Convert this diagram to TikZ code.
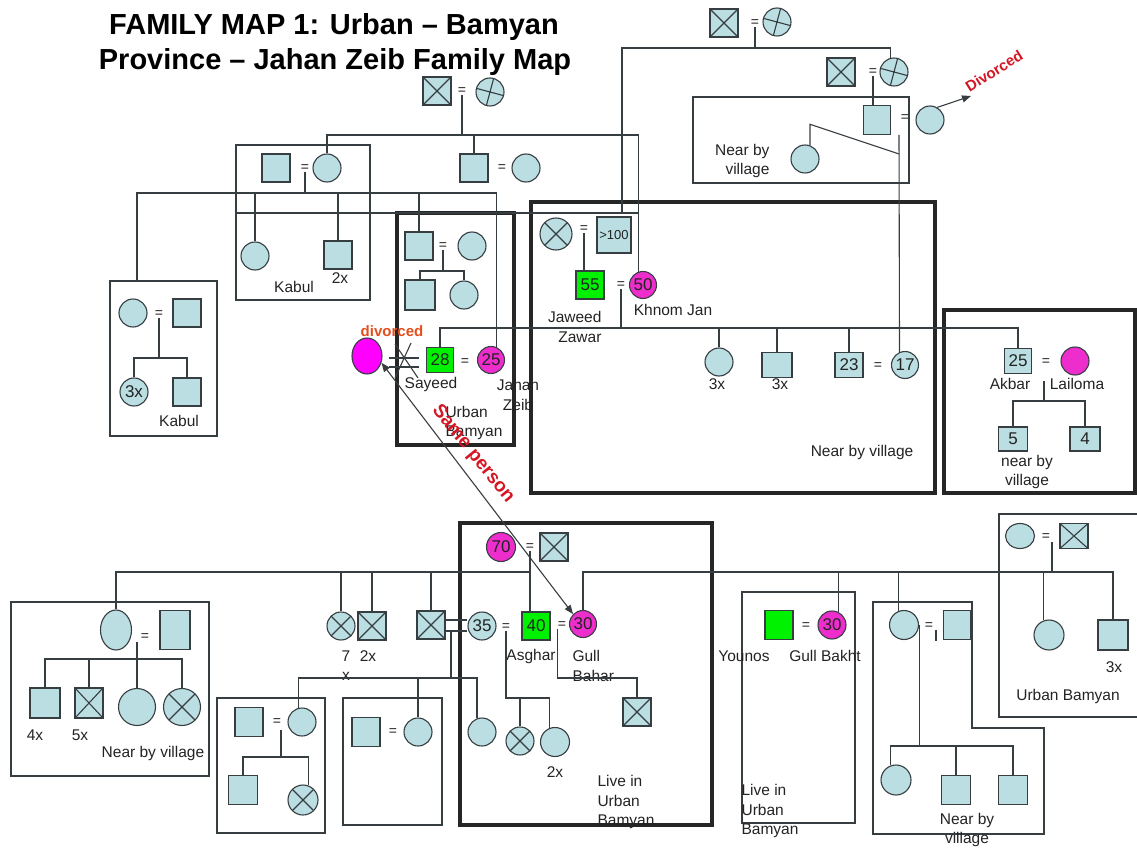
\documentclass[tikz,border=0pt]{standalone}
\usepackage{fontspec}
\setmainfont{Liberation Sans}
\usetikzlibrary{arrows.meta,calc,shapes.geometric}
\definecolor{pale}{RGB}{186,222,225}
\definecolor{edge}{RGB}{55,62,66}
\definecolor{lime}{RGB}{0,242,0}
\definecolor{rose}{RGB}{238,45,205}
\definecolor{fuchsia}{RGB}{255,0,255}
\definecolor{divred}{RGB}{212,22,36}
\definecolor{rust}{RGB}{228,78,28}
\definecolor{ink}{RGB}{35,35,35}
\newcommand{\lblfont}{\fontsize{15.5}{19.5}\selectfont}
\newcommand{\numfont}{\fontsize{17}{17}\selectfont}

\begin{document}
\begin{tikzpicture}[x=1pt,y=-1pt,line width=1.1pt,>={Triangle[length=9pt,width=7pt]},
  every node/.style={text=ink},
  fence/.style={draw=edge},
  wall/.style={draw=black!85,line width=3.8pt},
  link/.style={draw=edge},
  male/.style={draw=edge,fill=pale,minimum width=28pt,minimum height=28pt,inner sep=0pt,font=\numfont},
  fem/.style={circle,draw=edge,fill=pale,minimum size=28pt,inner sep=0pt,font=\numfont},
  oval/.style={ellipse,draw=edge,fill=pale,inner sep=0pt},
  dead/.style={path picture={\draw[edge] (path picture bounding box.north west) -- (path picture bounding box.south east)
      (path picture bounding box.north east) -- (path picture bounding box.south west);}},
  tilt/.style={path picture={\draw[edge] ($(path picture bounding box.center)+(75:20pt)$) -- ($(path picture bounding box.center)+(255:20pt)$)
      ($(path picture bounding box.center)+(-15:20pt)$) -- ($(path picture bounding box.center)+(165:20pt)$);}},
  eq/.style={inner sep=0pt,font=\fontsize{14}{14}\selectfont},
  lbl/.style={inner sep=0pt,font=\lblfont},
  warn/.style={inner sep=0pt,text=divred,font=\fontsize{15}{15}\selectfont\bfseries},
  title/.style={inner sep=0pt,text=black,font=\fontsize{29}{35}\selectfont\bfseries}]
\useasboundingbox (0,0) rectangle (1137,850);

\node[title,anchor=base] (ttlA) at (334,35) {FAMILY MAP 1: Urban – Bamyan};
\node[title,anchor=base] (ttlB) at (335,70) {Province – Jahan Zeib Family Map};

\draw[fence] (236,145) rectangle (370,300);
\draw[fence] (110,281) rectangle (217,436);
\draw[fence] (693,97) rectangle (909,183);
\draw[wall] (397,213) rectangle (514,445);
\draw[wall] (531,202) rectangle (935,493);
\draw[wall] (944,310) rectangle (1135,493);
\draw[wall] (460,523) rectangle (712,825);
\draw[fence] (11,602) rectangle (209,776);
\draw[fence] (217,698) rectangle (325,833);
\draw[fence] (343,698) rectangle (442,825);
\draw[fence] (742,592) rectangle (855,823);
\draw[fence] (1140,514) -- (999,514) -- (999,717) -- (1140,717);
\draw[fence] (873,602) -- (972,602) -- (972,728) -- (1044,728) -- (1044,834) -- (873,834) -- cycle;

\node[male,dead] (gpa) at (437,91) {};
\node[eq] (mA) at (462,91) {=};
\node[fem,tilt] (gma) at (490,92) {};
\node[male,dead] (tpa) at (724,23) {};
\node[eq] (mT) at (755,23) {=};
\node[fem,tilt] (tma) at (777,22) {};
\node[male,dead] (tpb) at (841,72) {};
\node[eq] (mTb) at (873,72) {=};
\node[fem,tilt] (tmb) at (894,72) {};
\node[male,minimum width=27pt,minimum height=29pt] (tson) at (877,120) {};
\node[eq] (mTc) at (905,118) {=};
\node[fem] (tex) at (930,120) {};
\node[fem] (tdau) at (805,159) {};
\node[lbl,align=right,anchor=east] (nbvA) at (770,161) {Near by\\village};
\node[warn,rotate=32] (dvlB) at (994,71) {Divorced};

\node[male] (kpa) at (276,168) {};
\node[eq] (mK) at (305,168) {=};
\node[fem] (kma) at (327,168) {};
\node[male] (sonB) at (474,168) {};
\node[eq] (mB) at (502,168) {=};
\node[fem] (wifeB) at (526,168) {};
\node[fem] (kc1) at (255,256) {};
\node[male] (kc2) at (338,255) {};
\node[lbl] (kc2x) at (340,278) {2x};
\node[lbl] (kabA) at (294,287) {Kabul};

\node[fem] (lkma) at (133,313) {};
\node[eq] (mL) at (159,314) {=};
\node[male] (lkpa) at (187,313) {};
\node[fem] (lkd) at (134,392) {3x};
\node[male] (lks) at (187,392) {};
\node[lbl] (kabB) at (179,421) {Kabul};

\node[male] (ubpa) at (419,246) {};
\node[eq] (mU) at (443,246) {=};
\node[fem] (ubma) at (472,246) {};
\node[male,minimum width=30pt,minimum height=30pt] (ubs) at (420,295) {};
\node[fem] (ubd) at (464,295) {};

\node[oval,fill=fuchsia,minimum width=30pt,minimum height=36pt] (exw) at (367,356) {};
\node[warn,text=rust] (dvlA) at (392,331) {divorced};
\node[male,fill=lime,minimum width=27pt,minimum height=25pt] (say) at (440,360) {28};
\node[eq] (mS) at (465,362) {=};
\node[fem,fill=rose,minimum size=27pt] (jz) at (491,360) {25};
\node[lbl] (sayl) at (431,384) {Sayeed};
\node[lbl,align=center] (jzl) at (518,395) {Jahan\\Zeib};
\node[lbl,align=left,anchor=west] (ubl) at (445,423) {Urban\\Bamyan};

\node[fem,dead,minimum size=32pt] (jgm) at (556,234) {};
\node[eq] (mJ) at (584,229) {=};
\node[male,minimum width=34pt,minimum height=36pt,font=\fontsize{13}{13}\selectfont] (jgp) at (614,235) {>100};
\node[male,fill=lime] (jw) at (590,285) {55};
\node[eq] (mJb) at (621,285) {=};
\node[fem,fill=rose,minimum size=27pt] (kj) at (643,285) {50};
\node[lbl,align=right,anchor=east] (jwl) at (602,327) {Jaweed\\Zawar};
\node[lbl] (kjl) at (673,310) {Khnom Jan};
\node[fem] (jc1) at (719,362) {};
\node[lbl] (jc1x) at (717,384) {3x};
\node[male,minimum width=30pt,minimum height=25pt] (jc2) at (777,365) {};
\node[lbl] (jc2x) at (780,384) {3x};
\node[male,minimum width=28pt,minimum height=25pt] (jc3) at (849,365) {23};
\node[eq] (m23) at (878,366) {=};
\node[fem,minimum size=27pt] (g17) at (905,365) {17};
\node[lbl] (nbvB) at (862,452) {Near by village};

\node[male,minimum width=27pt,minimum height=25pt] (akb) at (1018,361) {25};
\node[eq] (mAk) at (1046,362) {=};
\node[fem,fill=rose] (lai) at (1075,361) {};
\node[lbl] (akbl) at (1010,384) {Akbar};
\node[lbl] (lail) at (1077,384) {Lailoma};
\node[male,minimum width=29pt,minimum height=24pt] (ak5) at (1013,439) {5};
\node[male,minimum width=30pt,minimum height=24pt] (ak4) at (1085,439) {4};
\node[lbl,align=center] (akvl) at (1027,472) {near by\\village};

\node[fem,fill=rose,minimum size=29pt] (g70) at (501,547) {70};
\node[eq] (mG) at (530,547) {=};
\node[male,dead] (gpx) at (554,547) {};

\node[oval,minimum width=31pt,minimum height=40pt] (lew) at (116,630) {};
\node[eq] (mLe) at (145,637) {=};
\node[male,minimum width=30pt,minimum height=39pt] (leh) at (175,630) {};
\node[male,minimum width=30pt,minimum height=30pt] (l1) at (45,703) {};
\node[male,dead,minimum width=28pt,minimum height=30pt] (l2) at (89,703) {};
\node[fem,minimum size=37pt] (l3) at (137,707) {};
\node[fem,dead,minimum size=37pt] (l4) at (182,707) {};
\node[lbl] (l1x) at (35,735) {4x};
\node[lbl] (l2x) at (80,735) {5x};
\node[lbl] (nbvC) at (153,753) {Near by village};

\node[fem,dead] (s7) at (341,626) {};
\node[lbl] (s7a) at (346,656) {7};
\node[lbl] (s7b) at (346,676) {x};
\node[male,dead] (s2) at (372,626) {};
\node[lbl] (s2x) at (368,656) {2x};
\node[male,dead] (s3) at (431,625) {};

\node[male,minimum height=29pt] (b2h) at (249,722) {};
\node[eq] (mb2) at (277,722) {=};
\node[fem] (lb) at (302,722) {};
\node[male,minimum width=29pt,minimum height=29pt] (b2s) at (243,790) {};
\node[fem,dead,minimum size=30pt] (b2x) at (303,800) {};
\node[male,minimum height=29pt] (b3h) at (366,732) {};
\node[eq] (mb3) at (393,732) {=};
\node[fem] (md) at (418,732) {};

\node[fem] (c35) at (482,626) {35};
\node[eq] (m35) at (506,627) {=};
\node[male,fill=lime] (asg) at (536,626) {40};
\node[eq] (mAG) at (562,625) {=};
\node[fem,fill=rose,minimum size=27pt] (gbh) at (583,624) {30};
\node[lbl] (asgl) at (531,656) {Asghar};
\node[lbl,align=left,anchor=west] (gbhl) at (572,666) {Gull\\Bahar};
\node[fem,dead] (xc) at (520,741) {};
\node[fem,minimum size=29pt] (c2x) at (555,742) {};
\node[lbl] (c2xl) at (555,772) {2x};
\node[fem] (c3) at (482,732) {};
\node[male,dead] (xs4) at (637,712) {};
\node[lbl,align=left,anchor=west] (livA) at (597,802) {Live in\\Urban\\Bamyan};

\node[male,fill=lime,minimum height=29pt] (yun) at (779,625) {};
\node[eq] (mY) at (806,626) {=};
\node[fem,fill=rose] (gbk) at (832,625) {30};
\node[lbl] (yunl) at (744,656) {Younos};
\node[lbl] (gbkl) at (825,656) {Gull Bakht};
\node[lbl,align=left,anchor=west] (livB) at (741,811) {Live in\\Urban\\Bamyan};

\node[fem,minimum size=29pt] (nw) at (904,625) {};
\node[eq] (mN) at (929,626) {=};
\node[male,minimum width=27pt,minimum height=29pt] (nh) at (957,625) {};
\node[fem,minimum size=30pt] (nc1) at (896,780) {};
\node[male,minimum width=29pt,minimum height=29pt] (nc2) at (956,790) {};
\node[male,minimum width=29pt,minimum height=29pt] (nc3) at (1013,790) {};
\node[lbl,align=center] (nbvD) at (967,830) {Near by\\village};

\node[oval,minimum width=29pt,minimum height=25pt] (rcw) at (1020,536) {};
\node[eq] (mR) at (1046,537) {=};
\node[male,dead,minimum width=28pt,minimum height=25pt] (rch) at (1074,536) {};
\node[fem,minimum size=30pt] (uc) at (1049,635) {};
\node[male,minimum width=30pt,minimum height=30pt] (us) at (1113,635) {};
\node[lbl] (usl) at (1114,667) {3x};
\node[lbl] (ubr) at (1068,696) {Urban Bamyan};

\coordinate (barA) at (462,135);
\coordinate (barT) at (755,48);
\coordinate (lnkW) at (236,213);
\coordinate (lnkE) at (622,213);
\coordinate (tcJ) at (899,154);
\coordinate (tcT) at (899,135);
\coordinate (dvtip) at (971,96);
\coordinate (barK) at (305,193);
\coordinate (lkTop) at (137,281);
\coordinate (barL) at (159,358);
\coordinate (barU) at (443,271);
\coordinate (dvx) at (404,361);
\coordinate (barJ) at (621,328);
\coordinate (akT) at (1044,381);
\coordinate (barAk) at (1044,401);
\coordinate (barG) at (530,572);
\coordinate (rcT) at (1052,542);
\coordinate (barR) at (1052,572);
\coordinate (barAs) at (506,698);
\coordinate (gbK) at (637,678);
\coordinate (dbT) at (451,631);
\coordinate (barC) at (451,678);
\coordinate (b2T) at (281,730);
\coordinate (barB2) at (281,757);
\coordinate (leT) at (137,642);
\coordinate (barLe) at (137,659);
\coordinate (barN) at (918,746);
\coordinate (nTick) at (936,630);

\begin{scope}[on background layer/.try]
\end{scope}
\draw[link] (mA.south) -- (barA);
\draw[link] (kma.north) |- (barA) -| (kj.110);
\draw[link] (sonB.north) -- (sonB.north |- barA);
\draw[link] (mT.south) -- (barT);
\draw[link] (lnkW) -- (kj.110 |- lnkW);
\draw[link] (lnkE) |- (barT) -| (tmb.105);
\draw[link] (mTb.south) -- (mTb.south |- tson.north);
\draw[link] (tdau.70) -- ++(0,-21) -- (tcJ);
\draw[link] (tcT) -- (g17.113);
\draw[link,->] (tex.60) -- (dvtip);

\draw[link] (mK.south) -- (barK);
\draw[link] (lkTop) |- (barK) -| (jz.65);
\draw[link] (kc1.north) -- (kc1.north |- barK);
\draw[link] (kc2.north) -- (kc2.north |- barK);
\draw[link] (ubpa.north) -- (ubpa.north |- barK);
\draw[link] (mL.south) -- (barL);
\draw[link] (lkd.north) |- (barL) -| (lks.north);
\draw[link] (mU.south) -- (barU);
\draw[link] (ubs.north) |- (barU) -| (ubd.north);

\draw[link] ($(exw.east)+(6,2)$) -- ($(say.west)+(-7,-2)$);
\draw[link] ($(exw.east)+(6,11)$) -- ($(say.west)+(-7,7)$);
\draw[link] ($(dvx)+(7,-18)$) -- ($(dvx)+(-9,17)$);
\draw[link] ($(dvx)+(-9,-17)$) -- ($(dvx)+(14,17)$);
\draw[link,<->] (exw.-25) -- (gbh.135);
\node[warn,rotate=-51,font=\fontsize{19}{19}\selectfont\bfseries] (samel) at (473,454) {Same person};

\draw[link] (mJ.south) -- (mJ.south |- jw.north);
\draw[link] (mJb.south) -- (barJ);
\draw[link] (say.north) |- (barJ) -| (akb.north);
\draw[link] (jc1.north) -- (jc1.north |- barJ);
\draw[link] (jc2.north) -- (jc2.north |- barJ);
\draw[link] (jc3.north) -- (jc3.north |- barJ);
\draw[link] (akT) -- (barAk);
\draw[link] (ak5.north) |- (barAk) -| (ak4.north);

\draw[link] (mG.south) -- (mG.south |- asg.north);
\draw[link] (lew.north) |- (barG);
\draw[link] (s7.north) -- (s7.north |- barG);
\draw[link] (s2.north) -- (s2.north |- barG);
\draw[link] (s3.north) -- (s3.north |- barG);
\draw[link] (rcT) -- (barR);
\draw[link] (gbh.north) |- (barR) -| (us.north);
\draw[link] (gbk.65) -- (gbk.65 |- barR);
\draw[link] (nw.110) -- (nw.110 |- barR);
\draw[link] (uc.110) -- (uc.110 |- barR);

\draw[link] (m35.south) -- (barAs) -| (c2x.110);
\draw[link] (xc.north) -- (xc.north |- barAs);
\draw[link] (mAG.south west) |- (gbK) -- (xs4.north);
\draw[link] ($(s3.east)+(0,-5)$) -- ($(c35.west)+(0,-6)$);
\draw[link] ($(s3.east)+(0,6)$) -- ($(c35.west)+(0,5)$);
\draw[link] (dbT) -- (barC);
\draw[link] (lb.105) |- (barC) -| (c3.110);
\draw[link] (md.north) -- (md.north |- barC);
\draw[link] (b2T) -- (barB2);
\draw[link] (b2s.north) |- (barB2) -| (b2x.70);
\draw[link] (leT) -- (barLe);
\draw[link] (l1.north) |- (barLe) -| (l4.north);
\draw[link] (l2.north) -- (l2.north |- barLe);
\draw[link] (l3.north) -- (l3.north |- barLe);
\draw[link] (nw.east) -- (nw.east |- barN);
\draw[link] (nc1.110) |- (barN) -| (nc3.north);
\draw[link] (nc2.north) -- (nc2.north |- barN);
\draw[link] (nTick) -- ++(0,11);
\end{tikzpicture}
\end{document}
